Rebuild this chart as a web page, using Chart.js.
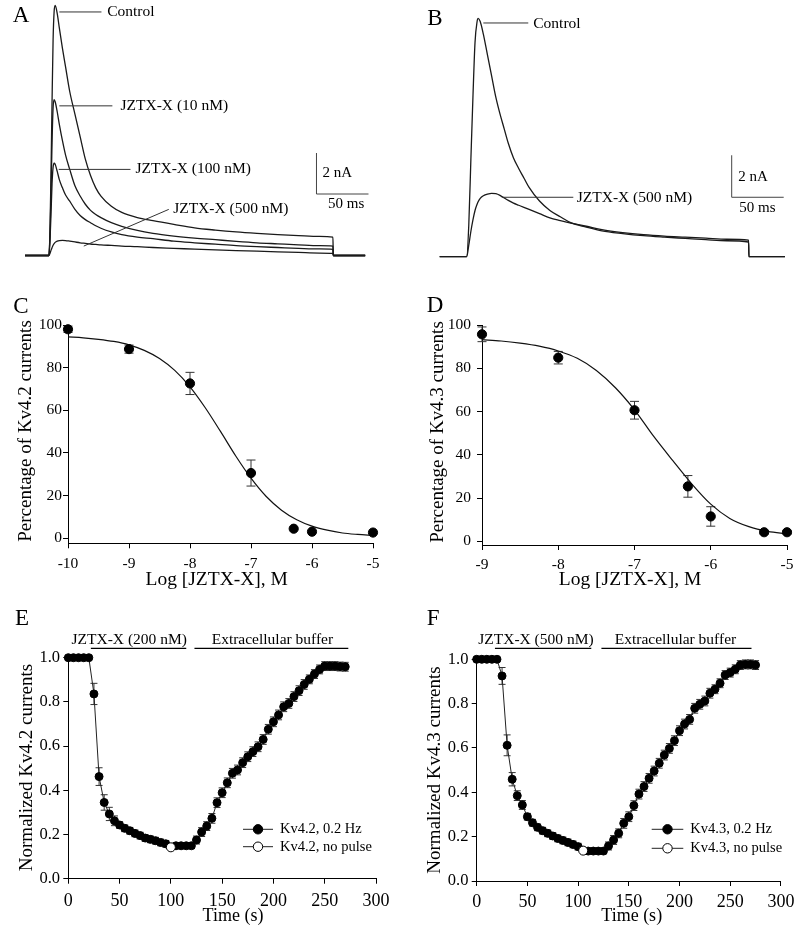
<!DOCTYPE html>
<html>
<head>
<meta charset="utf-8">
<script src="https://cdn.jsdelivr.net/npm/chart.js@4.4.1/dist/chart.umd.min.js"></script>
<style>
  html, body { margin: 0; padding: 0; background: #fff; }
  #fig { position: relative; width: 800px; height: 928px; overflow: hidden; }
  #fig canvas { position: absolute; }
</style>
</head>
<body>
<div id="fig">
  <canvas id="pA" width="400" height="270" style="left:0;top:0"></canvas>
  <canvas id="pB" width="400" height="270" style="left:400px;top:0"></canvas>
  <canvas id="pC" width="400" height="320" style="left:0;top:280px"></canvas>
  <canvas id="pD" width="400" height="320" style="left:400px;top:280px"></canvas>
  <canvas id="pE" width="400" height="338" style="left:0;top:590px"></canvas>
  <canvas id="pF" width="400" height="338" style="left:400px;top:590px"></canvas>
</div>
<script>
// A: Kv4.2 current traces (ms, nA)
const traceTimeA = [-23, 0, 1, 2, 3, 4, 5, 6, 8, 10, 13, 16, 20, 25, 30, 35, 40, 45, 50, 60, 70, 85, 100, 120, 140, 160, 180, 200, 220, 240, 260, 273, 273.4, 304];
const controlA = [0, 0, 1.2, 4.0, 7.5, 10.5, 11.9, 12.2, 11.8, 11.1, 10.1, 9.2, 8.0, 6.9, 5.8, 4.7, 3.9, 3.3, 2.9, 2.4, 2.1, 1.85, 1.7, 1.52, 1.35, 1.24, 1.15, 1.08, 1.02, 0.97, 0.93, 0.9, 0, 0];
const jztx10A = [0, 0, 1.0, 3.0, 5.5, 7.2, 7.6, 7.5, 7.0, 6.4, 5.6, 4.9, 4.2, 3.4, 2.9, 2.5, 2.2, 2.0, 1.85, 1.6, 1.42, 1.22, 1.08, 0.95, 0.85, 0.77, 0.69, 0.62, 0.57, 0.52, 0.48, 0.46, 0, 0];
const jztx100A = [0, 0, 0.7, 2.0, 3.5, 4.3, 4.5, 4.45, 4.1, 3.7, 3.3, 2.95, 2.65, 2.25, 1.95, 1.75, 1.6, 1.45, 1.33, 1.15, 1.02, 0.9, 0.82, 0.7, 0.62, 0.55, 0.48, 0.43, 0.39, 0.35, 0.32, 0.3, 0, 0];
const jztx500A = [0, 0, 0.1, 0.25, 0.38, 0.5, 0.58, 0.64, 0.7, 0.73, 0.74, 0.73, 0.7, 0.66, 0.62, 0.59, 0.56, 0.54, 0.52, 0.49, 0.46, 0.43, 0.39, 0.35, 0.31, 0.27, 0.24, 0.21, 0.18, 0.15, 0.12, 0.1, 0, 0];

// B: Kv4.3 current traces (ms, nA)
const traceTimeB = [-26, 0, 2, 4, 6, 8, 10, 11, 13, 16, 20, 24, 28, 32, 36, 40, 45, 50, 55, 60, 70, 80, 90, 100, 115, 130, 150, 170, 190, 210, 230, 250, 271, 271.4, 306];
const controlB = [0, 0, 1.5, 4.6, 7.6, 10.2, 11.2, 11.35, 11.2, 10.6, 9.6, 8.6, 7.6, 6.8, 6.1, 5.4, 4.7, 4.2, 3.75, 3.3, 2.65, 2.2, 1.9, 1.62, 1.41, 1.23, 1.1, 1.0, 0.93, 0.87, 0.81, 0.76, 0.7, 0, 0];
const jztx500B = [0, 0, 0.55, 1.2, 1.75, 2.2, 2.5, 2.62, 2.78, 2.9, 2.98, 3.02, 3.0, 2.92, 2.8, 2.68, 2.55, 2.45, 2.35, 2.25, 2.05, 1.85, 1.72, 1.6, 1.45, 1.29, 1.15, 1.05, 0.98, 0.93, 0.88, 0.83, 0.79, 0, 0];

// C: Kv4.2 concentration-response
const logConcC = [-10, -9, -8, -7, -6.3, -6, -5];
const pctC = [98.0, 88.7, 72.6, 30.6, 4.5, 3.1, 2.7];
const semC = [1.5, 1.9, 5.2, 6.1, 0, 0, 0];
const fitLogC = [-10, -9.75, -9.5, -9.25, -9, -8.75, -8.5, -8.25, -8, -7.75, -7.5, -7.25, -7, -6.75, -6.5, -6.25, -6, -5.75, -5.5, -5.25, -5];
const fitPctC = [94.4, 94.0, 93.3, 92.3, 90.7, 88.1, 84.3, 78.7, 71.0, 61.2, 50.1, 38.6, 28.2, 19.6, 13.2, 8.7, 5.7, 3.8, 2.5, 1.8, 1.3];
const logTicksC = [-10, -9, -8, -7, -6, -5];

// D: Kv4.3 concentration-response
const logConcD = [-9, -8, -7, -6.3, -6, -5.3, -5];
const pctD = [95.7, 84.9, 60.6, 25.4, 11.5, 4.2, 4.2];
const semD = [3.4, 2.9, 4.1, 5.0, 4.5, 0.8, 0.8];
const fitLogD = [-9, -8.75, -8.5, -8.25, -8, -7.75, -7.5, -7.25, -7, -6.75, -6.5, -6.25, -6, -5.75, -5.5, -5.25, -5];
const fitPctD = [93.2, 92.6, 91.6, 90.2, 88.0, 84.6, 79.0, 71.0, 60.8, 48.6, 37.4, 26.6, 17.2, 10.6, 6.8, 4.6, 3.4];
const logTicksD = [-9, -8, -7, -6, -5];
const pctTicks = [0, 20, 40, 60, 80, 100];

// E: Kv4.2 time course
const timeE = [0, 5, 10, 15, 20, 25, 30, 35, 40, 45, 50, 55, 60, 65, 70, 75, 80, 85, 90, 95, 105, 110, 115, 120, 125, 130, 135, 140, 145, 150, 155, 160, 165, 170, 175, 180, 185, 190, 195, 200, 205, 210, 215, 220, 225, 230, 235, 240, 245, 250, 255, 260, 265, 270];
const kv42E = [1, 1, 1, 1, 1, 0.836, 0.462, 0.345, 0.293, 0.262, 0.243, 0.228, 0.217, 0.205, 0.195, 0.184, 0.178, 0.172, 0.164, 0.158, 0.149, 0.149, 0.149, 0.149, 0.175, 0.211, 0.238, 0.273, 0.344, 0.389, 0.434, 0.477, 0.492, 0.525, 0.552, 0.575, 0.597, 0.630, 0.676, 0.710, 0.741, 0.778, 0.793, 0.824, 0.851, 0.879, 0.902, 0.926, 0.947, 0.962, 0.962, 0.962, 0.960, 0.959];
const semE = [0, 0, 0, 0, 0, 0.048, 0.04, 0.035, 0.03, 0.022, 0.015, 0.015, 0.015, 0.015, 0.015, 0.015, 0.015, 0.015, 0.015, 0.015, 0.012, 0.012, 0.012, 0.012, 0.018, 0.02, 0.02, 0.022, 0.022, 0.022, 0.022, 0.022, 0.022, 0.022, 0.022, 0.022, 0.022, 0.022, 0.022, 0.022, 0.022, 0.022, 0.022, 0.022, 0.022, 0.022, 0.02, 0.02, 0.02, 0.02, 0.02, 0.02, 0.02, 0.02];
const noPulseE = [100, 0.142];

// F: Kv4.3 time course
const timeF = [0, 5, 10, 15, 20, 25, 30, 35, 40, 45, 50, 55, 60, 65, 70, 75, 80, 85, 90, 95, 100, 110, 115, 120, 125, 130, 135, 140, 145, 150, 155, 160, 165, 170, 175, 180, 185, 190, 195, 200, 205, 210, 215, 220, 225, 230, 235, 240, 245, 250, 255, 260, 265, 270, 275];
const kv43F = [1, 1, 1, 1, 1, 0.925, 0.612, 0.459, 0.385, 0.343, 0.290, 0.263, 0.242, 0.227, 0.215, 0.203, 0.192, 0.183, 0.174, 0.165, 0.155, 0.135, 0.135, 0.135, 0.135, 0.158, 0.185, 0.215, 0.260, 0.290, 0.340, 0.392, 0.426, 0.463, 0.496, 0.531, 0.568, 0.598, 0.633, 0.678, 0.708, 0.729, 0.779, 0.797, 0.812, 0.847, 0.865, 0.892, 0.929, 0.940, 0.955, 0.974, 0.977, 0.977, 0.974];
const semF = [0, 0, 0, 0, 0, 0.038, 0.047, 0.03, 0.022, 0.02, 0.015, 0.015, 0.015, 0.015, 0.015, 0.015, 0.015, 0.015, 0.015, 0.015, 0.015, 0.012, 0.012, 0.012, 0.012, 0.018, 0.02, 0.02, 0.022, 0.022, 0.022, 0.022, 0.022, 0.022, 0.022, 0.022, 0.022, 0.022, 0.022, 0.022, 0.022, 0.022, 0.022, 0.022, 0.022, 0.022, 0.02, 0.02, 0.02, 0.02, 0.02, 0.02, 0.02, 0.02, 0.02];
const noPulseF = [105, 0.137];

const timeTicks = [0, 50, 100, 150, 200, 250, 300];
const normTicks = [0, 0.2, 0.4, 0.6, 0.8, 1.0];

const SERIF = "'Liberation Serif', 'Times New Roman', serif";
Chart.defaults.font.family = SERIF;
Chart.defaults.color = "#000";
Chart.defaults.animation = false;

function pts(xs, ys) {
    return xs.map((x, i) => ({ x: x, y: ys[i] }));
}

function text(ctx, s, x, y, size, align, base) {
    ctx.save();
    ctx.font = size + "px " + SERIF;
    ctx.fillStyle = "#000";
    ctx.textAlign = align || "left";
    ctx.textBaseline = base || "middle";
    ctx.fillText(s, x, y);
    ctx.restore();
}

function line(ctx, x1, y1, x2, y2, w, c) {
    ctx.save();
    ctx.strokeStyle = c || "#000";
    ctx.lineWidth = w || 1;
    ctx.beginPath();
    ctx.moveTo(x1, y1);
    ctx.lineTo(x2, y2);
    ctx.stroke();
    ctx.restore();
}

// error bars from dataset.errors, drawn behind the markers
const errorBars = {
    id: "errorBars",
    beforeDatasetsDraw(chart) {
        const { ctx, scales } = chart;
        chart.data.datasets.forEach((ds) => {
            if (!ds.errors) return;
            ds.data.forEach((p, i) => {
                const e = ds.errors[i];
                if (!e) return;
                const px = scales.x.getPixelForValue(p.x);
                const top = scales.y.getPixelForValue(p.y + e);
                const bot = scales.y.getPixelForValue(p.y - e);
                const c = ds.capHalf;
                line(ctx, px, top, px, bot, 1, "#333");
                line(ctx, px - c, top, px + c, top, 1, "#333");
                line(ctx, px - c, bot, px + c, bot, 1, "#333");
            });
        });
    },
};

// axis titles and panel letter
function labelPlugin(name, titles, letter, letterXY) {
    return {
        id: "labels" + name,
        afterDraw(chart) {
            const ctx = chart.ctx;
            titles.forEach((t) => {
                ctx.save();
                ctx.translate(t.x, t.y);
                if (t.rot) ctx.rotate(-Math.PI / 2);
                text(ctx, t.text, 0, 0, t.size, "center", "middle");
                ctx.restore();
            });
            text(ctx, letter, letterXY[0], letterXY[1], 23, "left", "alphabetic");
        },
    };
}

function axis(o) {
    return {
        type: "linear",
        position: o.pos,
        min: o.min,
        max: o.max,
        afterBuildTicks: (s) => {
            s.ticks = o.ticks.map((v) => ({ value: v }));
        },
        afterFit: (s) => {
            if (o.pos === "bottom") s.height = o.size;
            else s.width = o.size;
        },
        grid: { display: true, drawOnChartArea: false, drawTicks: true, tickLength: 5, tickWidth: 1, tickColor: "#000" },
        border: { display: true, color: "#000", width: 1 },
        ticks: {
            autoSkip: false,
            maxRotation: 0,
            minRotation: 0,
            padding: o.tickPad,
            color: "#000",
            font: { size: o.tickSize },
            callback: o.fmt || ((v) => String(v)),
        },
        title: { display: false },
    };
}

// ---------- A and B ----------
function traceSet(xs, ys) {
    return {
        data: pts(xs, ys),
        showLine: true,
        pointRadius: 0,
        borderColor: "#1a1a1a",
        backgroundColor: "#1a1a1a",
        borderWidth: 1.3,
        cubicInterpolationMode: "monotone",
        clip: false,
    };
}

function traceDecor(letter, letterXY, callouts, bar) {
    return {
        id: "decor" + letter,
        afterDraw(chart) {
            const { ctx, scales } = chart;
            const X = (v) => scales.x.getPixelForValue(v);
            const Y = (v) => scales.y.getPixelForValue(v);
            callouts.forEach((c) => {
                line(ctx, X(c.from[0]), Y(c.from[1]), X(c.to[0]), Y(c.to[1]), 1, "#333");
                text(ctx, c.label, X(c.at[0]), Y(c.at[1]), 15.5);
            });
            line(ctx, X(bar.t), Y(bar.i), X(bar.t), Y(bar.i + bar.di), 1, "#444");
            line(ctx, X(bar.t), Y(bar.i), X(bar.t + bar.dt), Y(bar.i), 1, "#444");
            text(ctx, bar.di + " nA", X(bar.nA[0]), Y(bar.nA[1]), 15);
            text(ctx, bar.dt + " ms", X(bar.ms[0]), Y(bar.ms[1]), 15, "center");
            text(ctx, letter, letterXY[0], letterXY[1], 23, "left", "alphabetic");
        },
    };
}

const calloutsA = [
    { label: "Control", from: [10, 11.88], to: [50.5, 11.88], at: [56, 11.88] },
    { label: "JZTX-X (10 nM)", from: [10, 7.3], to: [61, 7.3], at: [68.8, 7.3] },
    { label: "JZTX-X (100 nM)", from: [9.4, 4.2], to: [78.4, 4.2], at: [83.2, 4.2] },
    { label: "JZTX-X (500 nM)", from: [33.5, 0.46], to: [115.2, 2.25], at: [119.4, 2.25] },
];
const calloutsB = [
    { label: "Control", from: [16, 11.13], to: [59.2, 11.13], at: [64, 11.1] },
    { label: "JZTX-X (500 nM)", from: [33.7, 2.83], to: [102.5, 2.83], at: [105.8, 2.78] },
];

function traceChart(id, sets, xr, yr, pad, decor) {
    new Chart(document.getElementById(id), {
        type: "scatter",
        data: { datasets: sets },
        options: {
            responsive: false,
            animation: false,
            events: [],
            layout: { padding: pad },
            plugins: { legend: { display: false }, tooltip: { enabled: false } },
            scales: {
                x: { type: "linear", display: false, min: xr[0], max: xr[1] },
                y: { type: "linear", display: false, min: yr[0], max: yr[1] },
            },
        },
        plugins: [decor],
    });
}

traceChart(
    "pA",
    [traceSet(traceTimeA, controlA), traceSet(traceTimeA, jztx10A), traceSet(traceTimeA, jztx100A), traceSet(traceTimeA, jztx500A)],
    [-23, 310], [-0.5, 12.4],
    { left: 25, right: 28.6, top: 1.3, bottom: 4.25 },
    traceDecor("A", [12.7, 21.7], calloutsA, { t: 257.2, i: 3.0, dt: 50, di: 2, nA: [263, 4.02], ms: [285.7, 2.5] })
);
traceChart(
    "pB",
    [traceSet(traceTimeB, controlB), traceSet(traceTimeB, jztx500B)],
    [-26, 310], [-0.5, 12],
    { left: 39.66, right: 10.9, top: 4.7, bottom: 2.8 },
    traceDecor("B", [27.3, 25], calloutsB, { t: 254.8, i: 2.83, dt: 50, di: 2, nA: [261, 3.81], ms: [279.6, 2.32] })
);

// ---------- C and D ----------
function doseChart(id, logs, pct, sem, fitX, fitY, xTicks, lay) {
    new Chart(document.getElementById(id), {
        type: "scatter",
        data: {
            datasets: [
                {
                    data: pts(fitX, fitY),
                    showLine: true,
                    pointRadius: 0,
                    borderColor: "#111",
                    backgroundColor: "#111",
                    borderWidth: 1.2,
                    cubicInterpolationMode: "monotone",
                    clip: false,
                    order: 2,
                },
                {
                    data: pts(logs, pct),
                    errors: sem,
                    capHalf: 4.5,
                    pointRadius: 4.6,
                    pointBackgroundColor: "#000",
                    pointBorderColor: "#000",
                    backgroundColor: "#000",
                    borderColor: "#000",
                    clip: false,
                    order: 1,
                },
            ],
        },
        options: {
            responsive: false,
            animation: false,
            events: [],
            layout: { padding: { left: 0, top: 45, right: lay.right, bottom: 0 } },
            plugins: { legend: { display: false }, tooltip: { enabled: false } },
            scales: {
                x: axis({ pos: "bottom", min: xTicks[0], max: xTicks[xTicks.length - 1], ticks: xTicks, size: lay.xH, tickPad: lay.xPad, tickSize: 15.5 }),
                y: axis({ pos: "left", min: lay.yMin, max: 100, ticks: pctTicks, size: lay.yW, tickPad: lay.yPad, tickSize: 15.5 }),
            },
        },
        plugins: [errorBars, labelPlugin(id, lay.titles, lay.letter, lay.letterXY)],
    });
}

doseChart("pC", logConcC, pctC, semC, fitLogC, fitPctC, logTicksC, {
    right: 27, xH: 56.7, xPad: 6, yMin: -2.34, yW: 68, yPad: 1, letter: "C", letterXY: [13.3, 33],
    titles: [
        { text: "Log [JZTX-X], M", x: 216.7, y: 299.5, size: 19.5 },
        { text: "Percentage of Kv4.2 currents", x: 25.8, y: 151, size: 19, rot: true },
    ],
});
doseChart("pD", logConcD, pctD, semD, fitLogD, fitPctD, logTicksD, {
    right: 13, xH: 55, xPad: 5.5, yMin: -1.7, yW: 82, yPad: 6, letter: "D", letterXY: [26.7, 31.7],
    titles: [
        { text: "Log [JZTX-X], M", x: 230, y: 299.5, size: 19.5 },
        { text: "Percentage of Kv4.3 currents", x: 38, y: 152, size: 19, rot: true },
    ],
});

// ---------- E and F ----------
function courseDecor(name, lay) {
    return {
        id: "course" + name,
        afterDraw(chart) {
            const { ctx, scales } = chart;
            const X = (v) => scales.x.getPixelForValue(v);
            lay.bars.forEach((b) => {
                text(ctx, b.label, X(b.at), 53.5, 15.5, "center", "alphabetic");
                line(ctx, X(b.from), 58.3, X(b.to), 58.3, 1.2, "#000");
            });
            chart.data.datasets.forEach((ds, i) => {
                const ry = lay.legendRows[i];
                line(ctx, lay.legendX[0], ry, lay.legendX[1], ry, 1, "#222");
                ctx.save();
                ctx.beginPath();
                ctx.arc((lay.legendX[0] + lay.legendX[1]) / 2, ry, 4.7, 0, Math.PI * 2);
                ctx.fillStyle = ds.pointBackgroundColor;
                ctx.fill();
                ctx.strokeStyle = "#000";
                ctx.lineWidth = 1;
                ctx.stroke();
                ctx.restore();
                text(ctx, ds.label, lay.legendX[1] + 7, ry, 14.5);
            });
        },
    };
}

function courseChart(id, t, v, sem, open, names, lay) {
    new Chart(document.getElementById(id), {
        type: "scatter",
        data: {
            datasets: [
                {
                    label: names[0],
                    data: pts(t, v),
                    errors: sem,
                    capHalf: 3.5,
                    showLine: true,
                    borderColor: "#222",
                    backgroundColor: "#000",
                    borderWidth: 1,
                    pointRadius: 4,
                    pointBackgroundColor: "#000",
                    pointBorderColor: "#000",
                    clip: false,
                    order: 2,
                },
                {
                    label: names[1],
                    data: [{ x: open[0], y: open[1] }],
                    pointRadius: 4.5,
                    pointBackgroundColor: "#fff",
                    pointBorderColor: "#000",
                    pointBorderWidth: 1,
                    backgroundColor: "#fff",
                    borderColor: "#000",
                    clip: false,
                    order: 1,
                },
            ],
        },
        options: {
            responsive: false,
            animation: false,
            events: [],
            layout: { padding: { left: 0, top: lay.top, right: lay.right, bottom: 0 } },
            plugins: { legend: { display: false }, tooltip: { enabled: false } },
            scales: {
                x: axis({ pos: "bottom", min: 0, max: 300, ticks: timeTicks, size: lay.xH, tickPad: lay.xPad, tickSize: 18 }),
                y: axis({ pos: "left", min: 0, max: 1, ticks: normTicks, size: lay.yW, tickPad: 3.3, tickSize: 16.5, fmt: (n) => n.toFixed(1) }),
            },
        },
        plugins: [errorBars, courseDecor(id, lay), labelPlugin(id, lay.titles, lay.letter, lay.letterXY)],
    });
}

courseChart("pE", timeE, kv42E, semE, noPulseE, ["Kv4.2, 0.2 Hz", "Kv4.2, no pulse"], {
    top: 67.7, right: 24, xH: 49.3, xPad: 7, yW: 68.3,
    letter: "E", letterXY: [15, 35],
    titles: [
        { text: "Time (s)", x: 233, y: 326, size: 18 },
        { text: "Normalized Kv4.2 currents", x: 27.5, y: 177.5, size: 19, rot: true },
    ],
    bars: [
        { label: "JZTX-X (200 nM)", at: 59.4, from: 22, to: 115 },
        { label: "Extracellular buffer", at: 199, from: 123, to: 273 },
    ],
    legendRows: [239.3, 256.7], legendX: [243, 273],
});
courseChart("pF", timeF, kv43F, semF, noPulseF, ["Kv4.3, 0.2 Hz", "Kv4.3, no pulse"], {
    top: 69.3, right: 15, xH: 47, xPad: 5.6, yW: 76.7,
    letter: "F", letterXY: [26.7, 35],
    titles: [
        { text: "Time (s)", x: 231.7, y: 326, size: 18 },
        { text: "Normalized Kv4.3 currents", x: 35.5, y: 180, size: 19, rot: true },
    ],
    bars: [
        { label: "JZTX-X (500 nM)", at: 58.4, from: 18, to: 113 },
        { label: "Extracellular buffer", at: 196, from: 123, to: 271 },
    ],
    legendRows: [239.3, 258.3], legendX: [251.7, 283.3],
});
</script>
</body>
</html>
